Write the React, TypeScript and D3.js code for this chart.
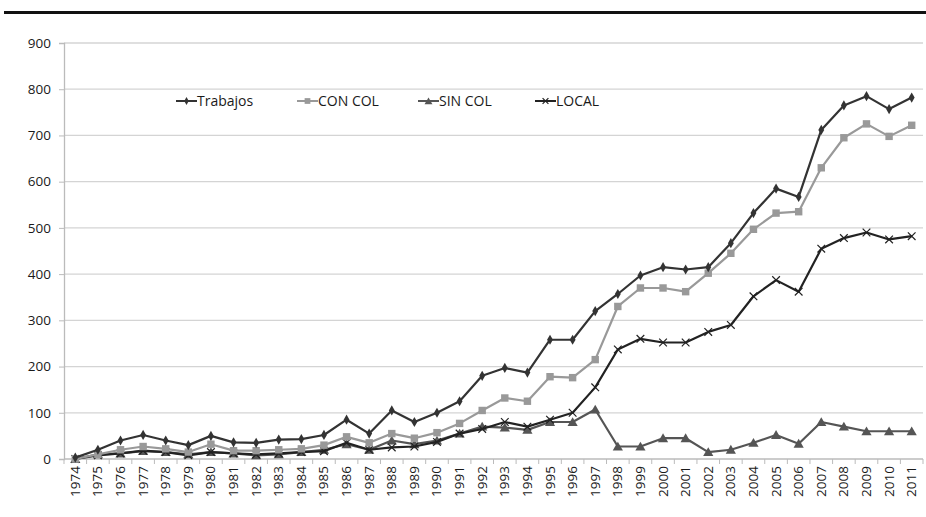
import { useEffect, useRef } from 'react';
import * as d3 from 'd3';

const years = [
  '1974', '1975', '1976', '1977', '1978', '1979', '1980', '1981', '1982', '1983',
  '1984', '1985', '1986', '1987', '1988', '1989', '1990', '1991', '1992', '1993',
  '1994', '1995', '1996', '1997', '1998', '1999', '2000', '2001', '2002', '2003',
  '2004', '2005', '2006', '2007', '2008', '2009', '2010', '2011',
];

const trabajos = [
  3, 20, 40, 52, 40, 30, 50, 36, 35, 42, 43, 52, 85, 55, 105, 80, 100, 125, 180, 197,
  187, 258, 258, 320, 357, 397, 415, 410, 415, 467, 532, 585, 567, 712, 765, 785, 757, 782,
];
const conCol = [
  0, 10, 20, 27, 22, 15, 32, 18, 18, 20, 22, 30, 48, 35, 55, 45, 57, 77, 105, 132,
  125, 178, 176, 215, 330, 370, 370, 362, 402, 445, 497, 532, 535, 630, 695, 725, 698, 722,
];
const sinCol = [
  0, 10, 12, 17, 15, 10, 15, 12, 8, 10, 15, 20, 32, 20, 40, 32, 40, 55, 70, 68,
  63, 80, 80, 107, 27, 27, 45, 45, 15, 20, 35, 52, 33, 80, 70, 60, 60, 60,
];
const local = [
  0, 8, 12, 18, 15, 8, 15, 12, 10, 12, 15, 17, 35, 20, 25, 27, 37, 55, 65, 80,
  70, 85, 100, 155, 237, 260, 252, 252, 275, 290, 352, 387, 362, 455, 478, 490, 475, 482,
];

const yTicks = [0, 100, 200, 300, 400, 500, 600, 700, 800, 900];

const seriesNames = ['Trabajos', 'CON COL', 'SIN COL', 'LOCAL'];

export default function App() {
  const svgRef = useRef<SVGSVGElement>(null);

  useEffect(() => {
    if (!svgRef.current) return;
    d3.select(svgRef.current).selectAll('*').remove();

    const width = 926;
    const height = 517;
    const left = 64;
    const right = 923;
    const top = 43;
    const bottom = 459;
    const font = "'Open Sans', 'Noto Sans', sans-serif";

    const svg = d3.select(svgRef.current).attr('width', width).attr('height', height);

    const x = d3.scaleBand<string>().domain(years).range([left, right]);
    const cx = (yr: string) => (x(yr) as number) + x.bandwidth() / 2;
    const y = d3.scaleLinear().domain([0, 900]).range([bottom, top]);

    // top rule
    svg.append('rect').attr('x', 4).attr('y', 11).attr('width', width - 4).attr('height', 3).attr('fill', '#111');

    // gridlines
    svg
      .selectAll('line.grid')
      .data(yTicks.filter((t) => t > 0))
      .join('line')
      .attr('class', 'grid')
      .attr('x1', left)
      .attr('x2', right)
      .attr('y1', (d) => y(d))
      .attr('y2', (d) => y(d))
      .attr('stroke', '#d4d4d4')
      .attr('stroke-width', 1.3);

    // y axis
    const yAxis = svg
      .append('g')
      .attr('transform', `translate(${left},0)`)
      .call(d3.axisLeft(y).tickValues(yTicks).tickSize(5).tickPadding(8));
    yAxis.select('.domain').attr('stroke', '#bbb').attr('stroke-width', 1.3);
    yAxis.selectAll('.tick line').attr('stroke', '#bbb');
    yAxis.selectAll('text').attr('font-family', font).attr('font-size', 13.5).attr('fill', '#1a1a1a');

    // x axis
    const xAxis = svg.append('g').attr('transform', `translate(0,${bottom})`);
    xAxis
      .append('line')
      .attr('x1', left)
      .attr('x2', right)
      .attr('stroke', '#bbb')
      .attr('stroke-width', 1.3);
    xAxis
      .selectAll('line.xt')
      .data(years.concat(['end']))
      .join('line')
      .attr('class', 'xt')
      .attr('x1', (d) => (d === 'end' ? right : (x(d) as number)))
      .attr('x2', (d) => (d === 'end' ? right : (x(d) as number)))
      .attr('y1', 0)
      .attr('y2', 5)
      .attr('stroke', '#bbb');
    xAxis
      .selectAll('text')
      .data(years)
      .join('text')
      .attr('transform', (d) => `translate(${cx(d) + 4.5},7) rotate(-90)`)
      .attr('text-anchor', 'end')
      .attr('font-family', font)
      .attr('font-size', 13.5)
      .attr('fill', '#1a1a1a')
      .text((d) => d);

    const line = d3
      .line<number>()
      .x((_, i) => cx(years[i]))
      .y((d) => y(d));

    const styles = [
      { data: trabajos, color: '#333', marker: 'diamond' },
      { data: conCol, color: '#999', marker: 'square' },
      { data: sinCol, color: '#555', marker: 'triangle' },
      { data: local, color: '#222', marker: 'x' },
    ];

    const drawMarker = (g: any, kind: string, color: string, px: number, py: number, s = 1) => {
      if (kind === 'diamond') {
        g.append('path')
          .attr('d', d3.symbol(d3.symbolDiamond, 30 * s)())
          .attr('transform', `translate(${px},${py})`)
          .attr('fill', color);
      } else if (kind === 'square') {
        g.append('path')
          .attr('d', d3.symbol(d3.symbolSquare, 55 * s)())
          .attr('transform', `translate(${px},${py})`)
          .attr('fill', color);
      } else if (kind === 'triangle') {
        g.append('path')
          .attr('d', d3.symbol(d3.symbolTriangle, 45 * s)())
          .attr('transform', `translate(${px},${py + 1})`)
          .attr('fill', color);
      } else {
        g.append('path')
          .attr('d', d3.symbol(d3.symbolX, 40 * s)())
          .attr('transform', `translate(${px},${py})`)
          .attr('fill', 'none')
          .attr('stroke', color)
          .attr('stroke-width', 1.2);
      }
    };

    // draw back to front
    [2, 3, 1, 0].forEach((idx) => {
      const st = styles[idx];
      const g = svg.append('g');
      g.append('path')
        .attr('d', line(st.data))
        .attr('fill', 'none')
        .attr('stroke', st.color)
        .attr('stroke-width', 2.2)
        .attr('stroke-linejoin', 'round');
      st.data.forEach((v, i) => drawMarker(g, st.marker, st.color, cx(years[i]), y(v)));
    });

    // legend
    const legendX = [176, 297, 418, 535];
    const legendY = 101;
    seriesNames.forEach((name, i) => {
      const st = styles[i];
      const g = svg.append('g');
      const lx = legendX[i];
      g.append('line')
        .attr('x1', lx)
        .attr('x2', lx + 21)
        .attr('y1', legendY)
        .attr('y2', legendY)
        .attr('stroke', st.color)
        .attr('stroke-width', 2);
      drawMarker(g, st.marker, st.color, lx + 10.5, legendY, 0.6);
      g.append('text')
        .attr('x', lx + 21)
        .attr('y', legendY + 5)
        .attr('font-family', font)
        .attr('font-size', 14)
        .attr('fill', '#1a1a1a')
        .text(name);
    });
  }, []);

  return (
    <div style={{ position: 'absolute', left: 0, top: 0, background: '#fff' }}>
      <svg ref={svgRef}></svg>
    </div>
  );
}
